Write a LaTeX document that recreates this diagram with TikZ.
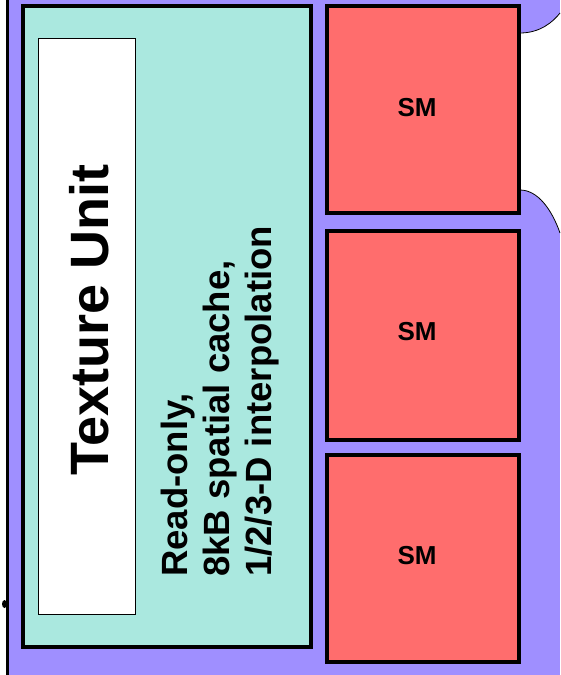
\documentclass[tikz,border=0pt]{standalone}
\usepackage{fontspec}
\setmainfont{Liberation Sans}
\definecolor{bgpurple}{RGB}{159,143,255}
\definecolor{texteal}{RGB}{170,232,223}
\definecolor{smred}{RGB}{255,109,109}
\begin{document}
\begin{tikzpicture}[x=1pt,y=-1pt,
  thickbox/.style={draw=black, line width=4pt, inner sep=0pt, outer sep=0pt},
  smbox/.style={thickbox, fill=smred, minimum width=191.5pt},
  smlabel/.style={font=\fontsize{26}{30}\selectfont\bfseries, inner sep=0pt},
  edgeline/.style={draw=black, line width=0.8pt}]
\useasboundingbox (0,0) rectangle (560,675);
% background
\fill[white] (0,0) rectangle (560,675);
\fill[bgpurple] (8,0) rectangle (560,675);
% white notch on the right
\fill[white] (560,13) .. controls (553,22) and (540,33) .. (520,33) -- (520,190)
  .. controls (538,190) and (552,210) .. (560,233) -- cycle;
\draw[edgeline] (560,13) .. controls (553,22) and (540,33) .. (520,33);
\draw[edgeline] (520,190) .. controls (538,190) and (552,210) .. (560,233);
% left border line
\draw[black, line width=3pt] (7.5,0) -- (7.5,675);
\fill[black] (4.5,604) ellipse (2.5 and 4);
% texture unit
\node[thickbox, fill=texteal, minimum width=288pt, minimum height=641pt] (tex) at (167,326.5) {};
\node[draw=black, line width=0.8pt, fill=white, minimum width=97pt, minimum height=576pt, inner sep=0pt] (inner) at (86.5,326) {};
\node[rotate=90, inner sep=0pt, font=\fontsize{54}{60}\selectfont\bfseries] (tu) at (89,320) {Texture Unit};
\node[rotate=90, anchor=north west, inner sep=0pt, align=left,
  font=\fontsize{36.5}{42}\selectfont\bfseries] (desc) at (161,577)
  {Read-only,\\8kB spatial cache,\\1/2/3-D interpolation};
% SMs
\node[smbox, minimum height=207pt] (sm1) at (422.75,109) {};
\node[smbox, minimum height=209.5pt] (sm2) at (422.75,335.25) {};
\node[smbox, minimum height=207pt] (sm3) at (422.75,558.5) {};
\node[smlabel] (sm1t) at (417,108) {SM};
\node[smlabel] (sm2t) at (417,332) {SM};
\node[smlabel] (sm3t) at (417,556) {SM};
\end{tikzpicture}
\end{document}
